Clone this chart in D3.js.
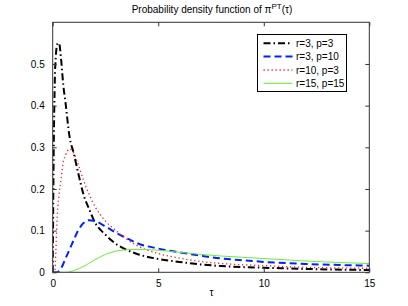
<!DOCTYPE html>
<html><head><meta charset="utf-8">
<script src="https://cdn.jsdelivr.net/npm/d3@7"></script>
<style>body{margin:0;background:#fff}svg{display:block;font-family:"Liberation Sans",Arial,sans-serif}</style>
</head><body><svg id="c" width="408" height="306"></svg>
<script>
const tau      = [0, 0.05, 0.1, 0.15, 0.2, 0.25, 0.3, 0.4, 0.5, 0.6, 0.8, 1.0, 1.2, 1.5, 1.7, 2, 2.5, 3, 3.5, 4, 5, 6, 7, 8, 9, 10, 12, 15];
const r3p3     = [0, 0.30, 0.46, 0.52, 0.545, 0.55, 0.55, 0.51, 0.45, 0.41, 0.325, 0.285, 0.24, 0.18, 0.155, 0.12, 0.09, 0.068, 0.054, 0.044, 0.032, 0.025, 0.019, 0.015, 0.0125, 0.011, 0.008, 0.0055];
const r3p10    = [0, 0, 0, 0, 0, 0.001, 0.003, 0.01, 0.02, 0.032, 0.055, 0.078, 0.1, 0.12, 0.125, 0.123, 0.11, 0.095, 0.082, 0.07, 0.057, 0.048, 0.04, 0.033, 0.029, 0.025, 0.02, 0.016];
const r10p3    = [0, 0, 0.002, 0.05, 0.12, 0.16, 0.185, 0.225, 0.265, 0.28, 0.296, 0.285, 0.26, 0.215, 0.19, 0.158, 0.123, 0.1, 0.08, 0.064, 0.045, 0.034, 0.026, 0.021, 0.018, 0.016, 0.012, 0.0096];
const r15p15   = [0, 0, 0, 0, 0, 0, 0, 0, 0, 0, 0.001, 0.004, 0.008, 0.015, 0.021, 0.03, 0.043, 0.051, 0.054, 0.055, 0.053, 0.048, 0.043, 0.039, 0.036, 0.033, 0.027, 0.021];
const seriesNames = ["r=3, p=3", "r=3, p=10", "r=10, p=3", "r=15, p=15"];
const xTicks = [0, 5, 10, 15];
const yTicks = [0, 0.1, 0.2, 0.3, 0.4, 0.5];

const styles = [
  {color:"#000000", width:2, dash:"7,3,1.5,3"},
  {color:"#0022ff", width:2, dash:"7,4"},
  {color:"#ff2020", width:1.3, dash:"1.3,2.7"},
  {color:"#66ee33", width:1, dash:null}
];
const data = [r3p3, r3p10, r10p3, r15p15];

const svg = d3.select("#c");
const L = 52.7, R = 369.3, T = 22.3, B = 272.3;
const x = d3.scaleLinear().domain([0, 15]).range([L, R]);
const y = d3.scaleLinear().domain([0, 0.6]).range([B, T]);

svg.append("defs").append("clipPath").attr("id","clip")
  .append("rect").attr("x",L).attr("y",T).attr("width",R-L).attr("height",B-T);

const line = d3.line().x((d,i)=>x(tau[i])).y(d=>y(d)).curve(d3.curveMonotoneX);
const g = svg.append("g").attr("clip-path","url(#clip)");
data.forEach((vals,k)=>{
  g.append("path").datum(vals).attr("d", line)
   .attr("fill","none").attr("stroke", styles[k].color)
   .attr("stroke-width", styles[k].width)
   .attr("stroke-dasharray", styles[k].dash);
});

// axes
const fs = 10;
const ax = svg.append("g").attr("transform",`translate(0,${B})`)
  .call(d3.axisBottom(x).tickValues(xTicks).tickSizeInner(-4).tickSizeOuter(0).tickPadding(8).tickFormat(d3.format("d")));
const ay = svg.append("g").attr("transform",`translate(${L},0)`)
  .call(d3.axisLeft(y).tickValues(yTicks).tickSizeInner(-4).tickSizeOuter(0).tickPadding(8).tickFormat(d=>d===0?"0":d3.format(".1f")(d)));
const axt = svg.append("g").attr("transform",`translate(0,${T})`)
  .call(d3.axisTop(x).tickValues(xTicks).tickSizeInner(-4).tickSizeOuter(0).tickFormat(""));
const ayr = svg.append("g").attr("transform",`translate(${R},0)`)
  .call(d3.axisRight(y).tickValues(yTicks).tickSizeInner(-4).tickSizeOuter(0).tickFormat(""));
[ax,ay,axt,ayr].forEach(a=>{
  a.select(".domain").remove();
  a.selectAll("line").attr("stroke","#333");
  a.selectAll("text").attr("font-size",fs).attr("fill","#000").attr("font-family","Liberation Sans, Arial, sans-serif");
});
svg.append("rect").attr("x",L).attr("y",T).attr("width",R-L).attr("height",B-T)
  .attr("fill","none").attr("stroke","#333").attr("stroke-width",1);

// title
const title = svg.append("text").attr("x",212).attr("y",13).attr("text-anchor","middle")
  .attr("font-size",10).attr("fill","#000");
title.append("tspan").text("Probability density function of \u03c0");
title.append("tspan").attr("dy",-4).attr("font-size",8).text("PT");
title.append("tspan").attr("dy",4).text("(\u03c4)");

// x label
svg.append("text").attr("x",211.5).attr("y",296).attr("text-anchor","middle")
  .attr("font-size",10).attr("fill","#000").text("\u03c4");

// legend
const lg = svg.append("g");
lg.append("rect").attr("x",257.5).attr("y",34.5).attr("width",89).attr("height",57)
  .attr("fill","#fff").attr("stroke","#000").attr("stroke-width",1);
const ly = [43.3, 56.5, 70, 83.3];
seriesNames.forEach((n,k)=>{
  lg.append("line").attr("x1",263.5).attr("x2",292.5).attr("y1",ly[k]).attr("y2",ly[k])
    .attr("stroke",styles[k].color).attr("stroke-width",styles[k].width)
    .attr("stroke-dasharray",styles[k].dash);
  lg.append("text").attr("x",296).attr("y",ly[k]+3.5).attr("font-size",10).attr("fill","#000").text(n);
});
</script></body></html>
